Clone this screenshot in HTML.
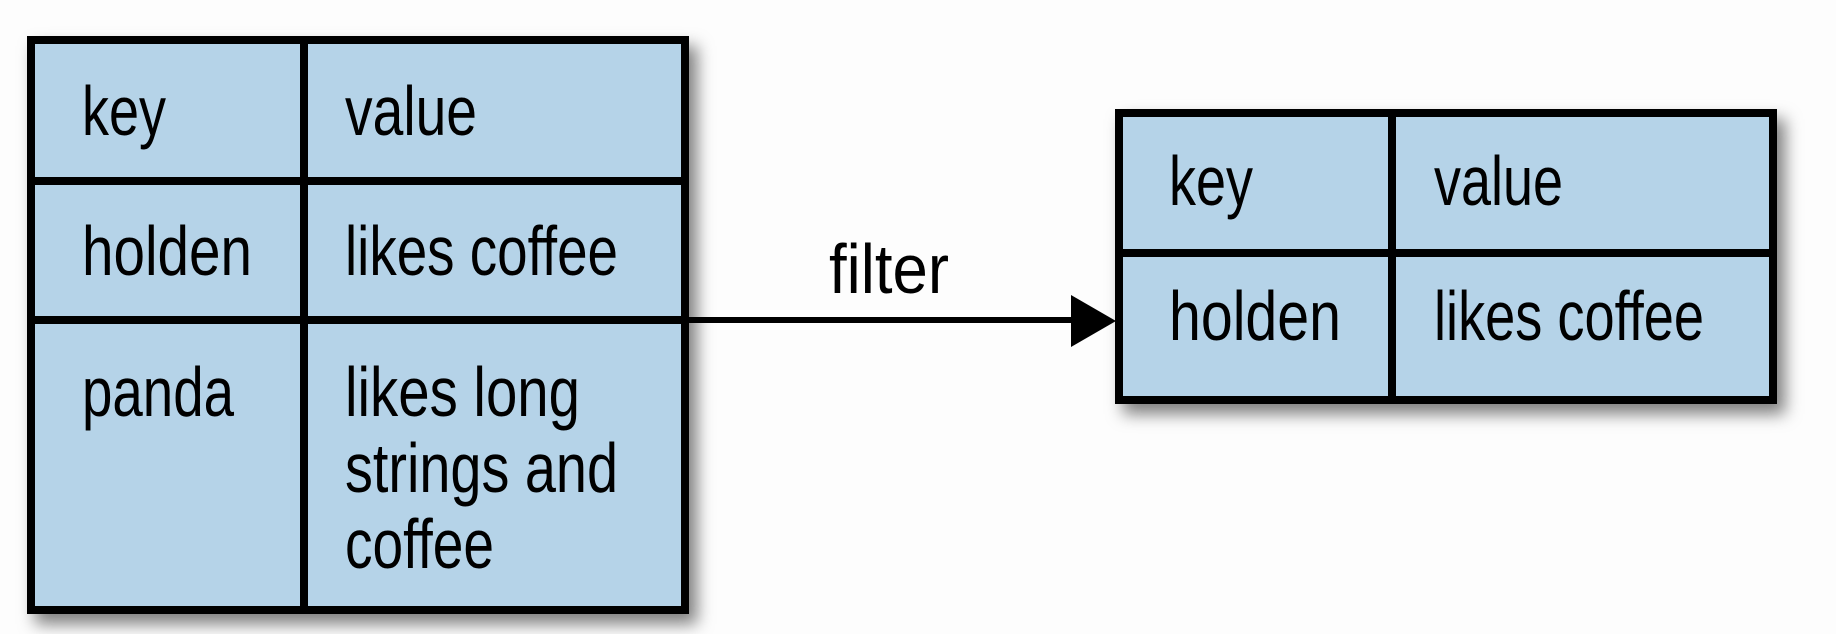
<!DOCTYPE html>
<html><head><meta charset="utf-8"><style>
html,body{margin:0;padding:0;background:#fdfdfd;}
svg{display:block}
text{font-family:"Liberation Sans Narrow","Liberation Sans",sans-serif;font-size:70px;fill:#000}
</style></head><body>
<svg width="1836" height="634" viewBox="0 0 1836 634" xmlns="http://www.w3.org/2000/svg">
<defs>
<filter id="sh" x="-10%" y="-10%" width="130%" height="130%">
<feDropShadow dx="8" dy="10" stdDeviation="8" flood-color="#000" flood-opacity="0.5"/>
</filter>
</defs>
<g filter="url(#sh)">
<rect x="31" y="40" width="654" height="570" fill="#b5d3e8" stroke="#000" stroke-width="8"/>
</g>
<line x1="304" y1="40" x2="304" y2="610" stroke="#000" stroke-width="8"/>
<line x1="31" y1="181" x2="685" y2="181" stroke="#000" stroke-width="8"/>
<line x1="31" y1="320" x2="685" y2="320" stroke="#000" stroke-width="8"/>
<g filter="url(#sh)">
<rect x="1119" y="113" width="654" height="287" fill="#b5d3e8" stroke="#000" stroke-width="8"/>
</g>
<line x1="1392" y1="113" x2="1392" y2="400" stroke="#000" stroke-width="8"/>
<line x1="1119" y1="253" x2="1773" y2="253" stroke="#000" stroke-width="8"/>
<line x1="685" y1="320" x2="1075" y2="320" stroke="#000" stroke-width="6"/>
<polygon points="1071,295 1116,321 1071,347" fill="#000"/>
<text x="82" y="135" textLength="84" lengthAdjust="spacingAndGlyphs">key</text>
<text x="345" y="135" textLength="132" lengthAdjust="spacingAndGlyphs">value</text>
<text x="82" y="275" textLength="170" lengthAdjust="spacingAndGlyphs">holden</text>
<text x="345" y="275" textLength="273" lengthAdjust="spacingAndGlyphs">likes coffee</text>
<text x="82" y="416" textLength="152" lengthAdjust="spacingAndGlyphs">panda</text>
<text x="345" y="416" textLength="235" lengthAdjust="spacingAndGlyphs">likes long</text>
<text x="345" y="492" textLength="273" lengthAdjust="spacingAndGlyphs">strings and</text>
<text x="345" y="568" textLength="149" lengthAdjust="spacingAndGlyphs">coffee</text>
<text x="829" y="293" textLength="120" lengthAdjust="spacingAndGlyphs">filter</text>
<text x="1169" y="205" textLength="84" lengthAdjust="spacingAndGlyphs">key</text>
<text x="1434" y="205" textLength="129" lengthAdjust="spacingAndGlyphs">value</text>
<text x="1169" y="340" textLength="172" lengthAdjust="spacingAndGlyphs">holden</text>
<text x="1434" y="340" textLength="270" lengthAdjust="spacingAndGlyphs">likes coffee</text>
</svg>
</body></html>
